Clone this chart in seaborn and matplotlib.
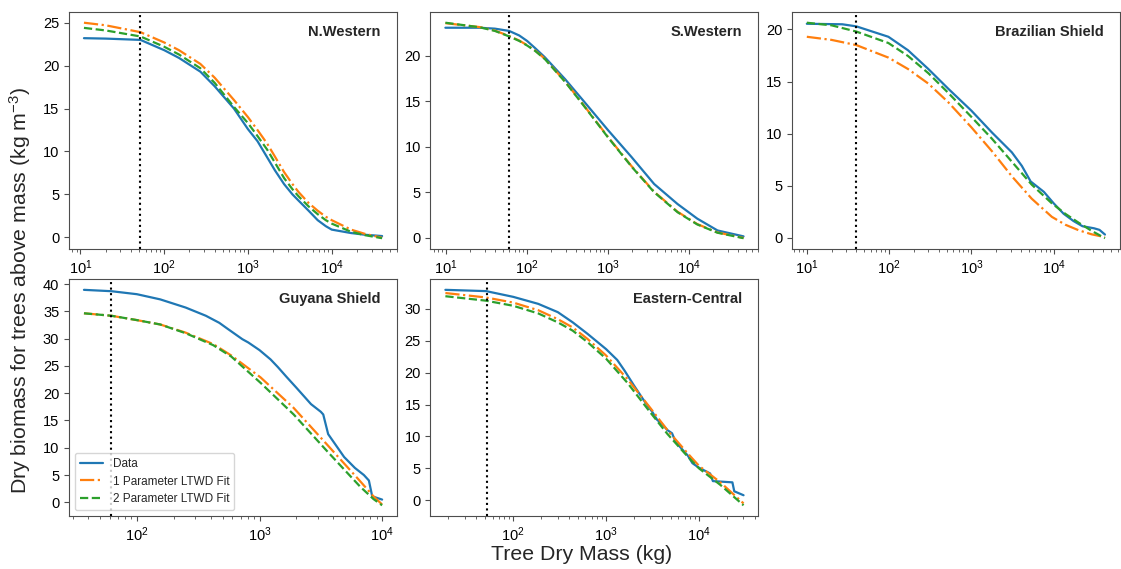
import numpy as np
import pandas as pd
import seaborn as sns
import matplotlib.pyplot as plt
from matplotlib.ticker import MultipleLocator

##### style
sns.set_style("ticks")
plt.rcParams['font.family'] = ['Liberation Sans', 'DejaVu Sans']
plt.rcParams['mathtext.fontset'] = 'custom'
plt.rcParams['mathtext.rm'] = 'Liberation Sans'
plt.rcParams['mathtext.it'] = 'Liberation Sans:italic'
plt.rcParams['mathtext.bf'] = 'Liberation Sans:bold'
plt.rcParams['axes.edgecolor'] = '0.3'
plt.rcParams['xtick.color'] = '0.3'
plt.rcParams['ytick.color'] = '0.3'
plt.rcParams['xtick.labelcolor'] = 'black'
plt.rcParams['ytick.labelcolor'] = 'black'

##### data
regions = ["N.Western", "S.Western", "Brazilian Shield", "Guyana Shield", "Eastern-Central"]
cutoffs = [52, 60, 40, 62, 52]

# N.Western
nw_mass = [11, 20, 52, 100, 150, 270, 400, 680, 1000, 1300, 1700, 2100, 2700, 3400, 4000,
           5300, 6800, 8500, 10000, 17000, 25000, 40000]
nw_data = [23.2, 23.15, 23.0, 21.8, 20.9, 19.3, 17.6, 15.0, 12.6, 11.2, 9.3, 7.8, 6.2, 5.0, 4.3,
           3.1, 2.0, 1.3, 0.9, 0.5, 0.3, 0.15]
nw_fit1 = [25.0, 24.7, 23.9, 22.7, 21.8, 20.2, 18.6, 16.0, 14.0, 12.5, 10.9, 9.4, 7.6, 6.2, 5.3,
           4.0, 3.1, 2.4, 2.0, 0.9, 0.4, -0.05]
nw_fit2 = [24.4, 24.1, 23.4, 22.2, 21.3, 19.7, 18.0, 15.2, 13.3, 11.8, 10.2, 8.7, 6.9, 5.6, 4.8,
           3.6, 2.7, 2.0, 1.6, 0.65, 0.25, -0.1]

# S.Western
sw_mass = [9.8, 26, 40, 60, 80, 100, 126, 166, 295, 510, 1000, 1950, 3700, 7200, 12600, 22400, 47000]
sw_data = [23.05, 23.05, 22.95, 22.7, 22.2, 21.6, 20.8, 19.8, 17.4, 14.9, 11.8, 8.85, 5.9, 3.7,
           2.1, 0.8, 0.15]
sw_fit1 = [23.55, 23.12, 22.74, 22.14, 21.64, 21.14, 20.54, 19.64, 17.15, 14.45, 11.05, 7.85,
           5.05, 2.85, 1.5, 0.58, -0.02]
sw_fit2 = [23.6, 23.1, 22.7, 22.1, 21.6, 21.1, 20.5, 19.6, 17.1, 14.4, 11.0, 7.8, 5.0, 2.8,
           1.46, 0.55, -0.05]

# Brazilian Shield
bs_data_mass = [10, 27, 40, 98, 170, 300, 525, 1000, 1780, 3100, 4100, 5250, 7600, 10000,
                13200, 17400, 22400, 31000, 36000, 42000]
bs_data = [20.55, 20.5, 20.3, 19.3, 18.0, 16.2, 14.3, 12.2, 10.1, 8.2, 6.9, 5.4, 4.4, 3.3,
           2.3, 1.6, 1.1, 0.9, 0.75, 0.3]
bs_mass = [10, 20, 40, 98, 170, 300, 525, 1000, 1780, 3100, 5400, 9500, 13800, 20000, 29000, 42000]
bs_fit1 = [19.3, 19.0, 18.5, 17.3, 16.2, 14.8, 13.0, 10.6, 8.3, 5.9, 3.75, 2.0, 1.25, 0.72, 0.32, 0.05]
bs_fit2 = [20.65, 20.4, 19.8, 18.7, 17.45, 15.8, 13.9, 11.6, 9.5, 7.3, 5.1, 3.3, 2.3, 1.45, 0.65, -0.05]

# Guyana Shield
gs_data_mass = [37, 62, 100, 155, 250, 365, 470, 550, 725, 810, 1000, 1230, 1410, 1660,
                2000, 2630, 3160, 3310, 3630, 4900, 6000, 7100, 7800, 8300, 10000]
gs_data = [38.95, 38.7, 38.15, 37.2, 35.7, 34.2, 32.9, 31.8, 29.9, 29.3, 27.9, 26.2, 24.8, 23.0,
           21.0, 18.0, 16.6, 16.1, 12.5, 8.3, 6.3, 5.0, 4.0, 1.1, 0.5]
gs_mass = [37, 62, 100, 155, 250, 420, 590, 1020, 1900, 3550, 6600, 8500, 10000]
gs_fit1 = [34.65, 34.2, 33.4, 32.6, 31.1, 29.0, 26.9, 22.9, 17.3, 10.6, 3.9, 1.1, -0.4]
gs_fit2 = [34.65, 34.2, 33.4, 32.6, 31.0, 28.8, 26.7, 21.9, 16.1, 9.4, 2.9, 0.6, -0.55]

# Eastern-Central
ec_data_mass = [18.6, 51, 100, 186, 302, 437, 631, 1000, 1318, 1585, 1995, 2512, 3162, 3548,
                3981, 4571, 5129, 5623, 7586, 8511, 10000, 13183, 14125, 22909, 23988, 30200]
ec_data = [33.0, 32.8, 31.9, 30.8, 29.5, 27.9, 26.1, 23.7, 22.0, 20.3, 18.0, 15.8, 13.8, 12.6,
           12.0, 11.0, 10.5, 9.1, 7.0, 5.8, 5.1, 4.2, 3.0, 2.8, 1.4, 0.78]
ec_mass = [18.6, 51, 100, 186, 302, 437, 631, 1000, 1700, 3020, 4570, 7500, 10000, 17000, 30200]
ec_fit1 = [32.5, 31.8, 31.0, 29.8, 28.4, 27.1, 25.3, 22.7, 19.0, 14.4, 11.0, 7.4, 5.4, 2.8, -0.5]
ec_fit2 = [32.0, 31.3, 30.5, 29.3, 27.9, 26.6, 24.8, 22.2, 18.4, 13.7, 10.4, 6.9, 5.0, 2.4, -0.8]

panels = [
    (nw_mass, nw_data, nw_mass, nw_fit1, nw_fit2),
    (sw_mass, sw_data, sw_mass, sw_fit1, sw_fit2),
    (bs_data_mass, bs_data, bs_mass, bs_fit1, bs_fit2),
    (gs_data_mass, gs_data, gs_mass, gs_fit1, gs_fit2),
    (ec_data_mass, ec_data, ec_mass, ec_fit1, ec_fit2),
]

##### plot
fig, axes = plt.subplots(2, 3, figsize=(11.21, 5.69), dpi=100)
fig.subplots_adjust(left=0.0616, right=0.999, top=0.979, bottom=0.093, wspace=0.102, hspace=0.127)
axes = axes.flatten()

for i, (dm, dv, fm, f1, f2) in enumerate(panels):
    ax = axes[i]
    ax.set_xscale('log')
    sns.lineplot(x=dm, y=dv, ax=ax, color='#1f77b4', lw=1.6, label='Data', legend=False)
    sns.lineplot(x=fm, y=f1, ax=ax, color='#ff7f0e', lw=1.6, label='1 Parameter LTWD Fit', legend=False)
    sns.lineplot(x=fm, y=f2, ax=ax, color='#2ca02c', lw=1.6, label='2 Parameter LTWD Fit', legend=False)
    ax.lines[1].set_linestyle('-.')
    ax.lines[2].set_linestyle('--')
    ax.axvline(cutoffs[i], color='k', ls=':', lw=1.5)
    ax.yaxis.set_major_locator(MultipleLocator(5))
    ax.text(0.95, 0.945, regions[i], transform=ax.transAxes, ha='right', va='top',
            fontsize=10.5, fontweight='bold')
    ax.tick_params(labelsize=10.5)
    ax.set_xlabel('')
    ax.set_ylabel('')
    if i == 3:
        h, l = ax.get_legend_handles_labels()
        ax.legend(h[:3], l[:3], loc='lower left', fontsize=8.5)

axes[5].axis('off')

fig.text(0.519, 0.025, 'Tree Dry Mass (kg)', ha='center', va='center', fontsize=15.3)
fig.text(0.018, 0.49, r'Dry biomass for trees above mass (kg m$^{-3}$)', ha='center', va='center',
         rotation=90, fontsize=15.3)

plt.savefig('out.png', dpi=100)
